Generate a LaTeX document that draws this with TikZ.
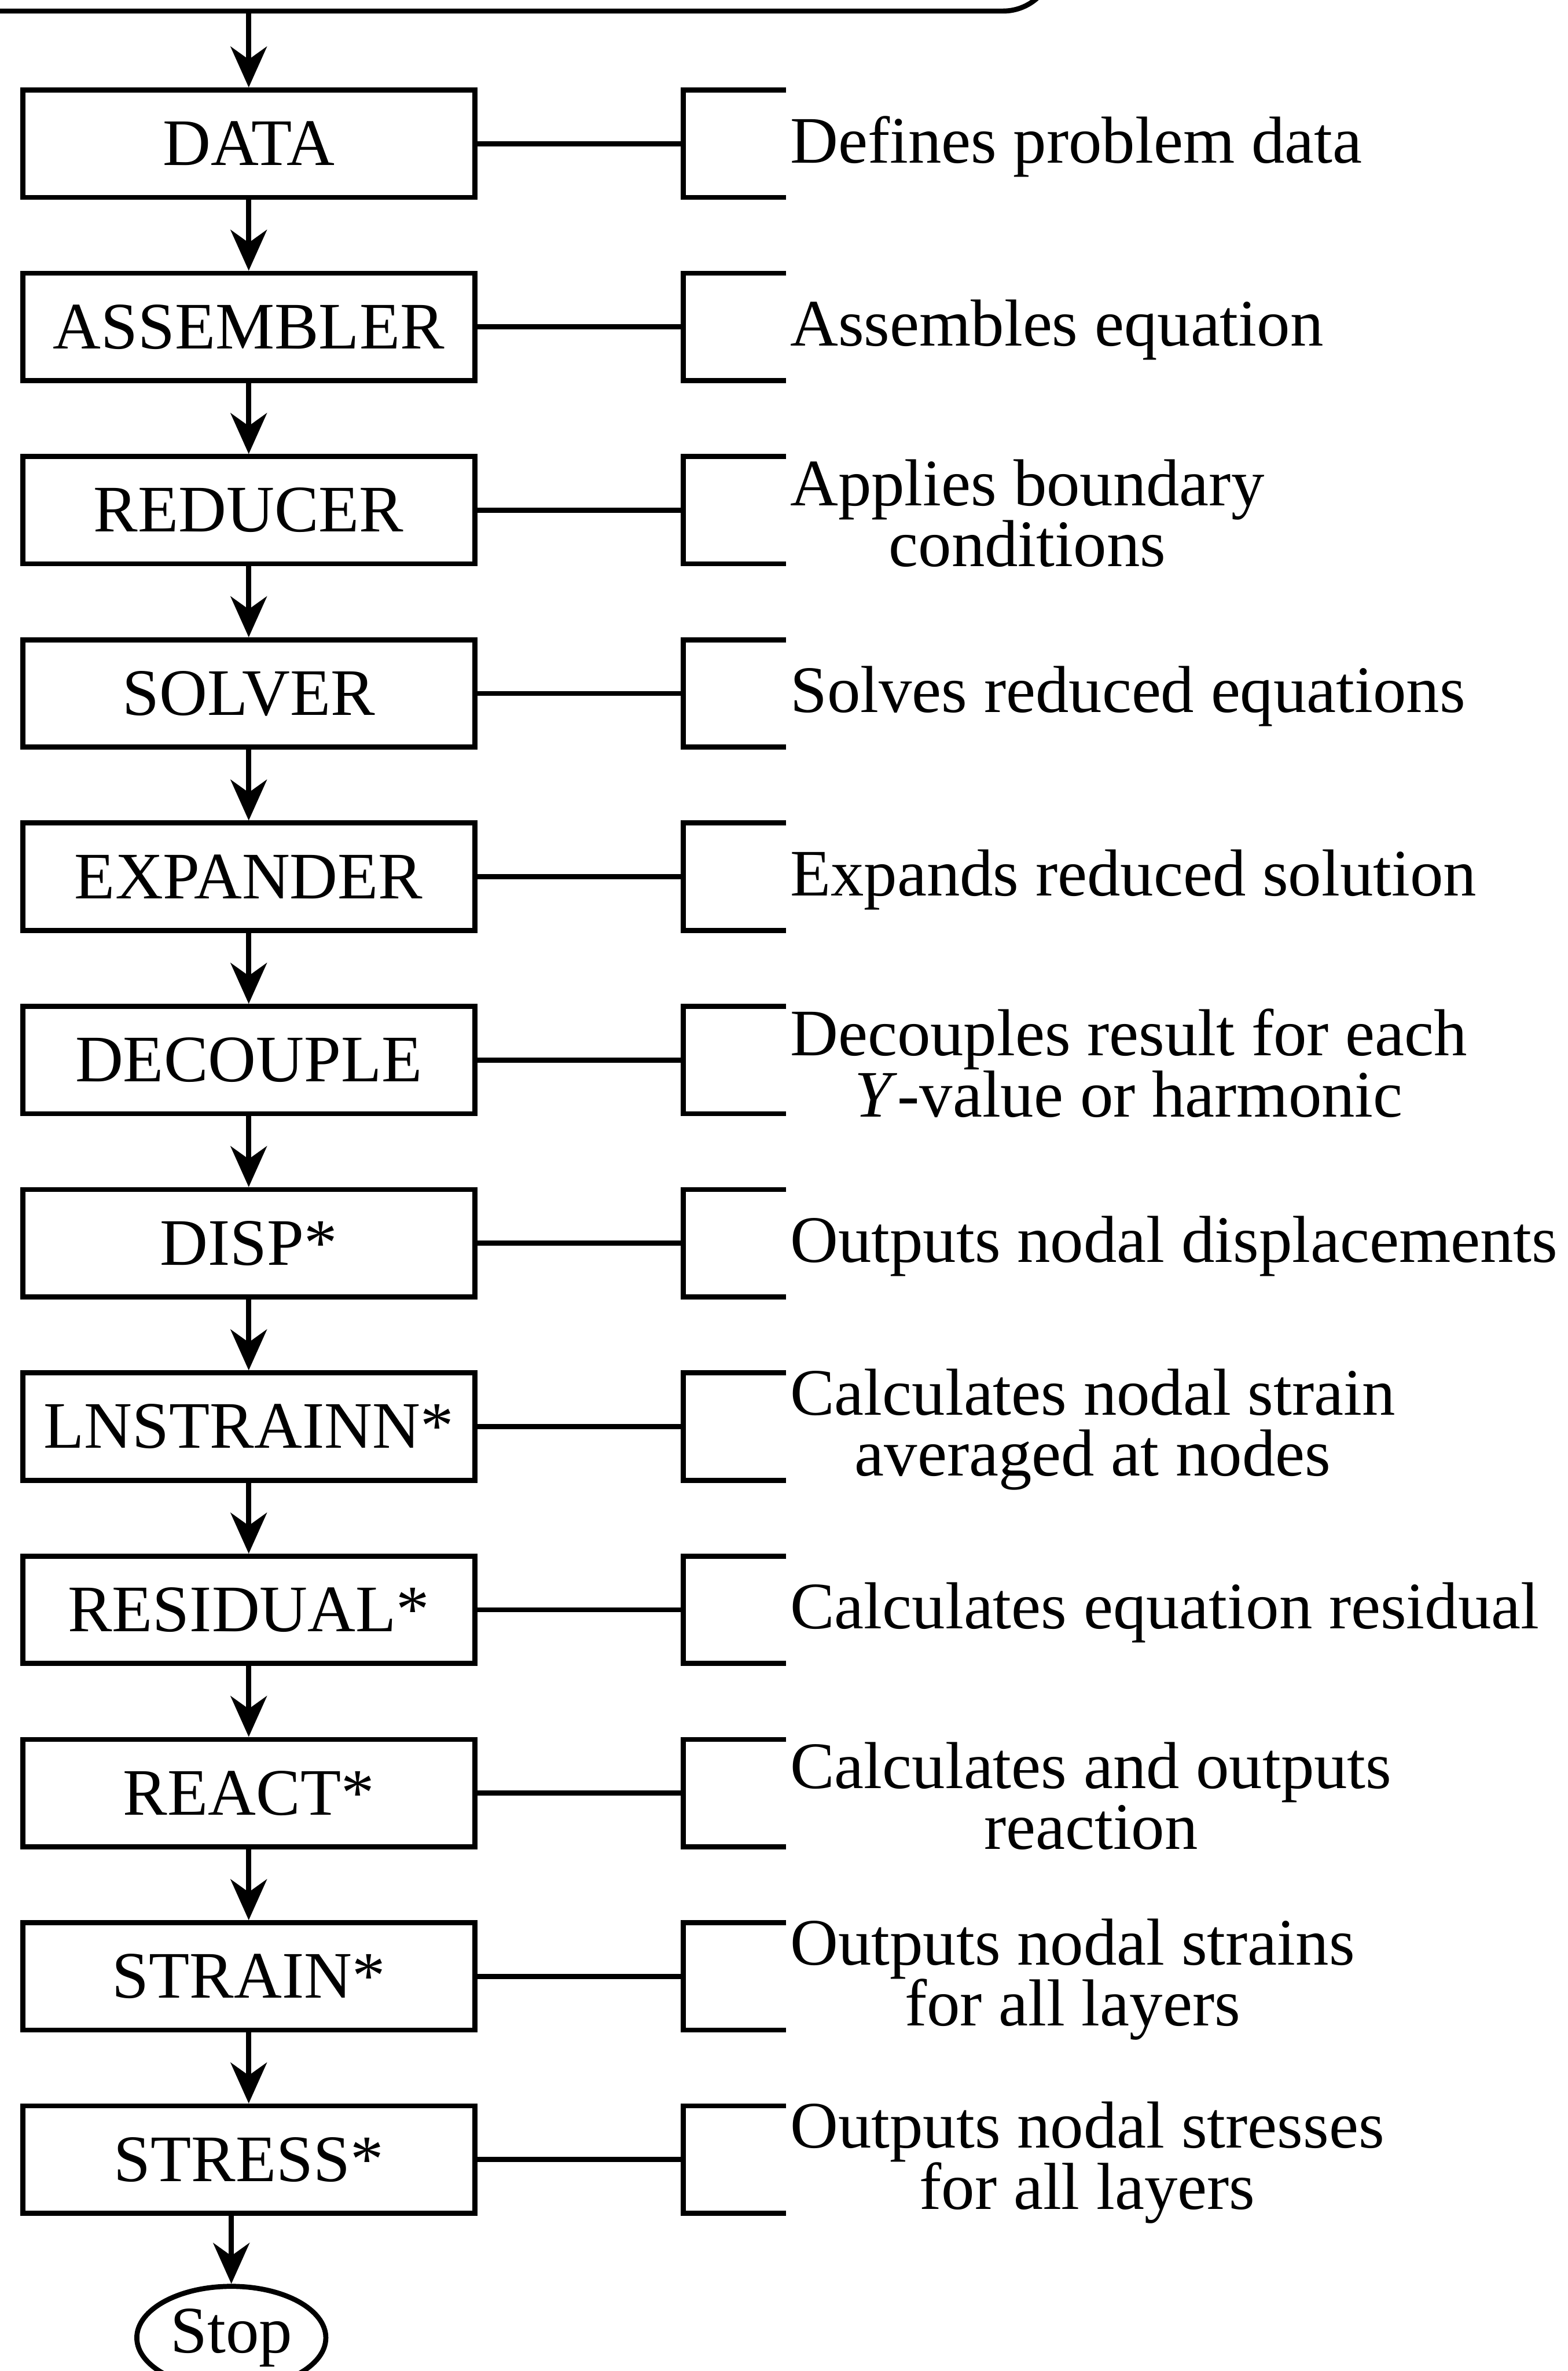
\documentclass[tikz,border=0pt]{standalone}
\usepackage{fontspec}
\setmainfont{Liberation Serif}
\usetikzlibrary{shapes.geometric,arrows.meta}

\begin{document}
\begin{tikzpicture}[line width=1.9pt,font=\fontsize{25}{23}\selectfont,
  blk/.style={draw, minimum width=5.98cm, minimum height=1.42cm, inner sep=0pt},
  desc/.style={anchor=west, align=center, inner sep=0pt},
  arr/.style={-{Stealth[length=0.54cm,width=0.48cm,inset=0.17cm]}}]
\useasboundingbox (0,0) rectangle (20.74,-31.36);
\clip (0,0) rectangle (20.74,-31.36);
\node[draw, rounded corners=0.68cm, minimum width=16cm, minimum height=3cm, anchor=south east] (start) at (13.98,-0.18) {};
\foreach \i/\nm/\lbl/\txt in {0/dat/DATA/{Defines problem data},
  1/asm/ASSEMBLER/{Assembles equation},
  2/red/REDUCER/{Applies boundary\\conditions},
  3/sol/SOLVER/{Solves reduced equations},
  4/exp/EXPANDER/{Expands reduced solution},
  5/dec/DECOUPLE/{Decouples result for each\\\textit{Y}-value or harmonic},
  6/dsp/DISP*/{Outputs nodal displacements},
  7/lns/LNSTRAINN*/{Calculates nodal strain\\averaged at nodes},
  8/res/RESIDUAL*/{Calculates equation residual},
  9/rea/REACT*/{Calculates and outputs\\reaction},
  10/stn/STRAIN*/{Outputs nodal strains\\for all layers},
  11/sts/STRESS*/{Outputs nodal stresses\\for all layers}}{
  \node[blk] (\nm) at (3.29,-1.9-\i*2.424) {\lbl};
  \coordinate (\nm-k) at (9.04,-1.9-\i*2.424);
  \draw (\nm.east) -- (\nm-k);
  \draw (\nm-k) ++(1.36,0.71) -- ++(-1.36,0) -- ++(0,-1.42) -- ++(1.36,0);
  \node[desc] (\nm-d) at ([xshift=1.38cm,yshift=-0.04cm]\nm-k) {\txt};
}
\foreach \a/\b in {dat/asm,asm/red,red/sol,sol/exp,exp/dec,dec/dsp,dsp/lns,lns/res,res/rea,rea/stn,stn/sts}
  \draw[arr] (\a) -- (\b);
\node[draw, ellipse, minimum width=2.5cm, minimum height=1.36cm, inner sep=0pt] (stop) at (3.06,-30.92) {Stop};
\draw[arr] (start.south -| dat.north) -- (dat.north);
\draw[arr] (stop.north |- sts.south) -- (stop.north);
\end{tikzpicture}
\end{document}
